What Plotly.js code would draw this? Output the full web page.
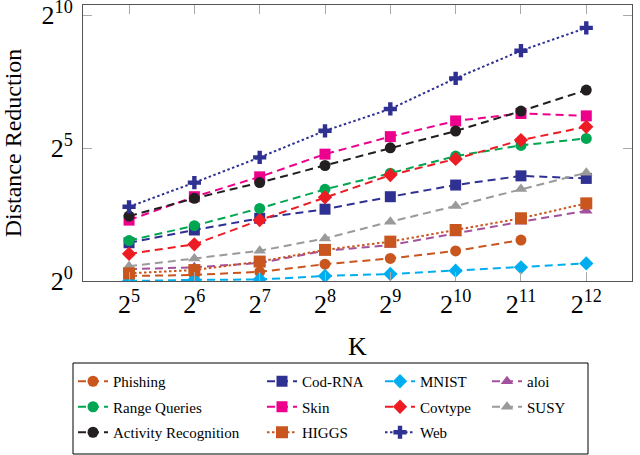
<!DOCTYPE html>
<html>
<head>
<meta charset="utf-8">
<script src="https://cdn.plot.ly/plotly-3.0.1.min.js"></script>
<style>
  body { margin: 0; background: #fff; }
  #plot { width: 640px; height: 455px; }
</style>
</head>
<body>
<div id="plot"></div>
<script>
// k values on the x axis and their tick labels
const K = [32, 64, 128, 256, 512, 1024, 2048, 4096];
const kLabels = ["2<sup>5</sup>", "2<sup>6</sup>", "2<sup>7</sup>", "2<sup>8</sup>",
  "2<sup>9</sup>", "2<sup>10</sup>", "2<sup>11</sup>", "2<sup>12</sup>"];
const yTicks = [1, 32, 1024];
const yLabels = ["2<sup>0</sup>", "2<sup>5</sup>", "2<sup>10</sup>"];

// distance reduction per dataset
const phishing = [1.14, 1.17, 1.27, 1.55, 1.80, 2.19, 2.91];
const codRna = [2.71, 3.78, 5.13, 6.50, 9.0, 12.2, 15.5, 14.5];
const mnist = [1.0, 1.03, 1.04, 1.14, 1.20, 1.31, 1.43, 1.58];
const aloi = [1.36, 1.43, 1.60, 2.20, 2.55, 3.46, 4.69, 6.23];
const rangeQueries = [2.87, 4.23, 6.64, 10.9, 16.6, 26.0, 34.3, 41.1];
const skin = [4.89, 9.0, 15.1, 27.3, 43.1, 64.9, 78.8, 74.0];
const covtype = [2.03, 2.60, 4.89, 8.88, 15.8, 24.1, 39.4, 55.7];
const susy = [1.47, 1.80, 2.20, 3.03, 4.69, 7.06, 11.0, 16.8];
const activity = [5.43, 8.63, 13.0, 20.3, 32.2, 49.9, 83.9, 145];
const higgs = [1.22, 1.33, 1.66, 2.25, 2.79, 3.78, 5.13, 7.57];
const web = [6.92, 13.0, 25.1, 50.2, 88.7, 197, 405, 734];

const DASH = "8px,5px";
const DOT = "2.5px,2.5px";

// one series: name, values, colour, dash pattern, marker, marker size
const series = [
  ["Phishing", phishing, "#c8561e", DASH, "circle", 11],
  ["Cod-RNA", codRna, "#2e3192", DASH, "square", 11],
  ["MNIST", mnist, "#00aeef", DASH, "diamond", 11],
  ["aloi", aloi, "#a3519c", DASH, "triangle-up", 11],
  ["Range Queries", rangeQueries, "#00a651", DASH, "circle", 11],
  ["Skin", skin, "#ec008c", DASH, "square", 11],
  ["Covtype", covtype, "#ed1c24", DASH, "diamond", 11],
  ["SUSY", susy, "#9a9a9a", DASH, "triangle-up", 11],
  ["Activity Recognition", activity, "#231f20", DASH, "circle", 11],
  ["HIGGS", higgs, "#c8561e", DOT, "square", 12],
  ["Web", web, "#2e3192", DOT, "cross", 11],
];

const legendNames = ["legend", "legend2", "legend3", "legend4"];

const traces = series.map((s, i) => ({
  x: K.slice(0, s[1].length),
  y: s[1],
  name: s[0],
  mode: "lines+markers",
  line: { color: s[2], dash: s[3], width: 2 },
  marker: { symbol: s[4], size: s[5], color: s[2] },
  legend: legendNames[i % 4],
  legendgroup: s[0],
}));

// legends are laid out as 4 columns
const legendFont = { family: "Liberation Serif", size: 15, color: "#000" };
const colX = [73, 262, 380, 487];
const plotL = 83, plotR = 632, plotT = 5, plotB = 281;
const px = (x) => (x - plotL) / (plotR - plotL);
const py = (y) => (plotB - y) / (plotB - plotT);

const axisCommon = {
  type: "log",
  showgrid: false,
  zeroline: false,
  showline: true,
  linecolor: "#555",
  linewidth: 1,
  mirror: "ticks",
  ticks: "inside",
  ticklen: 9,
  tickcolor: "#aaa",
  ticklabeloverflow: "allow",
  tickfont: { family: "Liberation Serif", size: 26, color: "#000" },
};

const layout = {
  width: 640,
  height: 455,
  margin: { l: plotL, r: 640 - plotR, t: plotT, b: 455 - plotB },
  paper_bgcolor: "#fff",
  plot_bgcolor: "#fff",
  font: { family: "Liberation Serif", color: "#000" },
  xaxis: Object.assign({}, axisCommon, {
    range: [Math.log10(2) * 4.295, Math.log10(2) * 12.7],
    tickvals: K,
    ticktext: kLabels,
    title: { text: "K", font: { family: "Liberation Serif", size: 26 }, standoff: 18 },
  }),
  yaxis: Object.assign({}, axisCommon, {
    range: [0, Math.log10(2) * 10.38],
    tickvals: yTicks,
    ticktext: yLabels,
    ticklabelstandoff: 4,
    title: { text: "Distance Reduction", font: { family: "Liberation Serif", size: 24 }, standoff: 20 },
  }),
  shapes: [{
    type: "rect", xref: "paper", yref: "paper",
    x0: px(73), x1: px(588), y0: py(363), y1: py(454),
    line: { color: "#000", width: 1 },
  }],
};

legendNames.forEach((ln, i) => {
  layout[ln] = {
    x: px(colX[i]), y: py(365),
    xanchor: "left", yanchor: "top",
    orientation: "v",
    font: legendFont,
    bgcolor: "rgba(0,0,0,0)",
    borderwidth: 0,
    tracegroupgap: 3,
  };
});

Plotly.newPlot("plot", traces, layout, { displayModeBar: false, staticPlot: true });
</script>
</body>
</html>
